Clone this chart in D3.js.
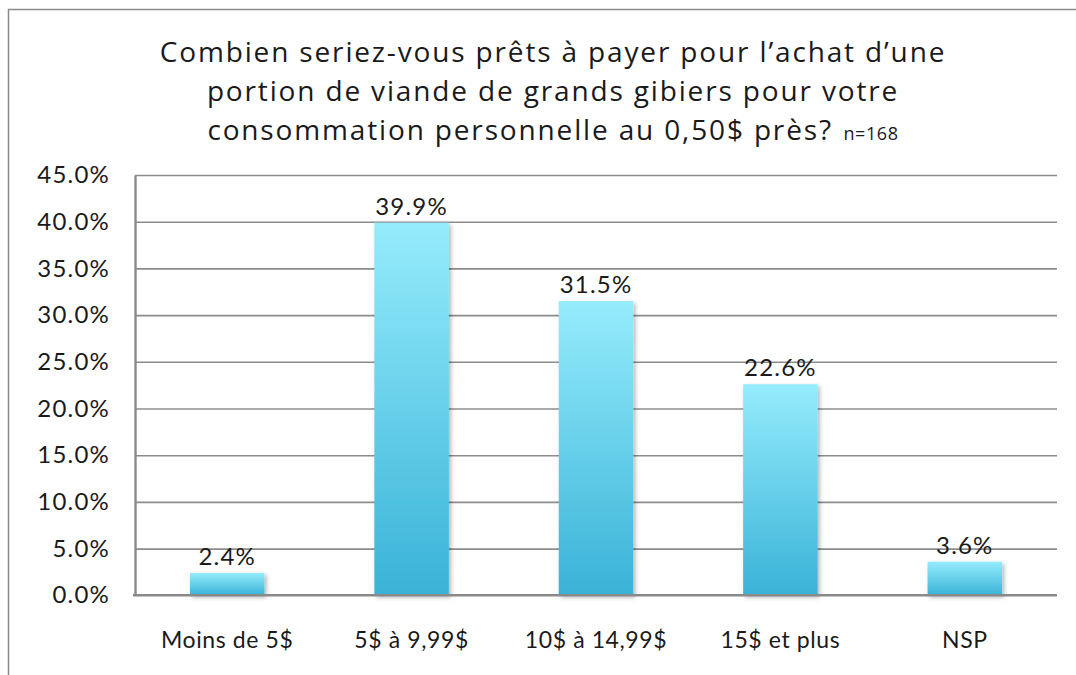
<!DOCTYPE html>
<html lang="fr">
<head>
    <meta charset="UTF-8">
    <title>Prix viande de grands gibiers</title>
    <script src="https://cdn.jsdelivr.net/npm/d3@7"></script>
    <style>
        body { margin: 0; background: #fff; }
        svg text { font-family: Lato, "Open Sans", sans-serif; fill: #1a1a1a; }
        svg text.title { font-family: "Open Sans", Lato, sans-serif; }
    </style>
</head>
<body>
    <svg id="mainsvg" width="1076" height="675"></svg>
    <script>
        // données
        const categories = ["Moins de 5$", "5$ à 9,99$", "10$ à 14,99$", "15$ et plus", "NSP"];
        const values = [2.4, 39.9, 31.5, 22.6, 3.6];
        const yTicks = [0, 5, 10, 15, 20, 25, 30, 35, 40, 45];
        const titleLines = [
            "Combien seriez-vous prêts à payer pour l’achat d’une",
            "portion de viande de grands gibiers pour votre",
            "consommation personnelle au 0,50$ près?"
        ];
        const sampleNote = "n=168";

        const svg = d3.select("#mainsvg");
        const margin = {top: 175, right: 19, bottom: 80, left: 135};
        const plotRight = 1057;
        const plotBottom = 595.3;

        // cadre du graphique (dépasse à droite et en bas)
        svg.append("rect")
            .attr("x", 8.5).attr("y", 9.5)
            .attr("width", 1200).attr("height", 800)
            .attr("fill", "none")
            .attr("stroke", "#8a8a8a")
            .attr("stroke-width", 1.5);

        const defs = svg.append("defs");
        const grad = defs.append("linearGradient")
            .attr("id", "barGrad")
            .attr("x1", 0).attr("y1", 0).attr("x2", 0).attr("y2", 1);
        grad.append("stop").attr("offset", "0%").attr("stop-color", "#95ecfc");
        grad.append("stop").attr("offset", "100%").attr("stop-color", "#39b3d7");

        const shadow = defs.append("filter")
            .attr("id", "shadow")
            .attr("x", "-20%").attr("y", "-20%")
            .attr("width", "150%").attr("height", "150%");
        shadow.append("feDropShadow")
            .attr("dx", 2).attr("dy", 2)
            .attr("stdDeviation", 2)
            .attr("flood-color", "#000")
            .attr("flood-opacity", 0.3);

        const x = d3.scaleBand()
            .domain(categories)
            .range([margin.left, plotRight])
            .paddingInner(0.596)
            .paddingOuter(0.298);

        const y = d3.scaleLinear()
            .domain([0, 45])
            .range([plotBottom, margin.top]);

        // titre
        const title = svg.append("text")
            .attr("class", "title")
            .attr("text-anchor", "middle")
            .attr("letter-spacing", 1.85)
            .attr("font-size", 28);
        titleLines.forEach((line, i) => {
            const t = title.append("tspan")
                .attr("x", 553)
                .attr("y", 62 + i * 39)
                .text(line);
            if (i === titleLines.length - 1) {
                t.append("tspan").attr("font-size", 18).attr("letter-spacing", 0.6)
                    .text("\u00a0\u00a0" + sampleNote);
            }
        });

        // grille horizontale
        const grid = svg.append("g")
            .attr("transform", `translate(${margin.left},0)`)
            .call(d3.axisLeft(y)
                .tickValues(yTicks.filter(d => d > 0))
                .tickSize(-(plotRight - margin.left))
                .tickFormat(""));
        grid.select(".domain").remove();
        grid.selectAll(".tick line")
            .attr("stroke", "#8c8c8c")
            .attr("stroke-width", 1.6);

        // axe y
        const yAxis = svg.append("g")
            .attr("transform", `translate(${margin.left},0)`)
            .call(d3.axisLeft(y)
                .tickValues(yTicks)
                .tickSize(0)
                .tickPadding(25)
                .tickFormat(d => d.toFixed(1) + "%"));
        yAxis.select(".domain")
            .attr("stroke", "#8a8a8a")
            .attr("stroke-width", 2.4);
        yAxis.selectAll(".tick text")
            .attr("font-size", 24)
            .attr("letter-spacing", 1.2);

        // barres
        svg.append("g")
            .selectAll("rect")
            .data(values)
            .join("rect")
            .attr("x", (d, i) => x(categories[i]))
            .attr("y", d => y(d))
            .attr("width", x.bandwidth())
            .attr("height", d => y(0) - y(d))
            .attr("fill", "url(#barGrad)")
            .attr("filter", "url(#shadow)");

        // axe x
        const xAxis = svg.append("g")
            .attr("transform", `translate(0,${plotBottom})`)
            .call(d3.axisBottom(x).tickSize(0).tickPadding(36));
        xAxis.select(".domain")
            .attr("stroke", "#8a8a8a")
            .attr("stroke-width", 2.6)
            .attr("d", `M${margin.left - 2},0H${plotRight}`);
        xAxis.selectAll(".tick text")
            .attr("font-size", 23)
            .attr("letter-spacing", 0.6);

        // étiquettes de valeurs
        svg.append("g")
            .selectAll("text")
            .data(values)
            .join("text")
            .attr("x", (d, i) => x(categories[i]) + x.bandwidth() / 2)
            .attr("y", d => y(d) - 8)
            .attr("text-anchor", "middle")
            .attr("font-size", 24)
            .attr("letter-spacing", 1.2)
            .text(d => d.toFixed(1) + "%");
    </script>
</body>
</html>
